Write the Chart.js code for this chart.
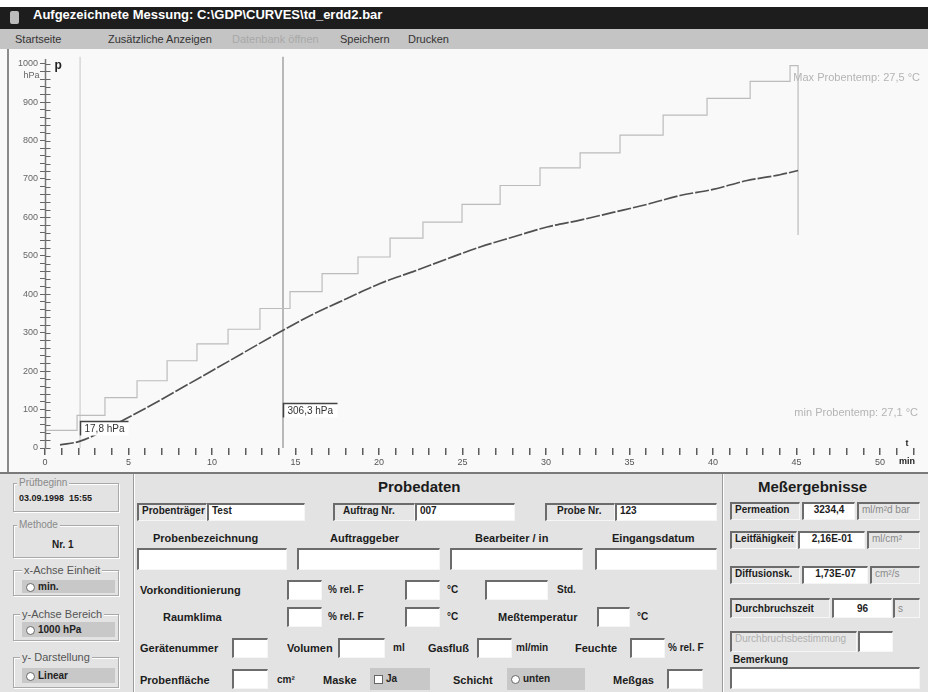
<!DOCTYPE html>
<html>
<head>
<meta charset="utf-8">
<script src="https://cdn.jsdelivr.net/npm/chart.js@4.4.1/dist/chart.umd.min.js"></script>
<style>
body { margin: 0; width: 928px; height: 692px; position: relative; overflow: hidden; background: #fff; font-family: "Liberation Sans", Arial, sans-serif; }
.a { position: absolute; white-space: nowrap; }
#titlebar { left: 0; top: 7px; width: 928px; height: 22px; background: #1d1d1d; }
#titlebar span { position: absolute; left: 33px; top: 0; line-height: 24px; color: #fff; font: bold 13px "Liberation Sans", Arial; }
#icon { left: 10px; top: 11px; width: 9px; height: 13px; background: #bbb; border-radius: 2px; }
#menubar { left: 0; top: 29px; width: 928px; height: 20px; background: #c4c4c4; }
.mi { top: 29px; line-height: 21px; font-size: 11px; color: #333; }
#panel { left: 0; top: 49px; width: 928px; height: 423px; background: #f9f9f9; }
#leftedge { left: 7px; top: 49px; width: 2px; height: 423px; background: #8a8a8a; }
#chartbox { left: 8px; top: 49px; width: 920px; height: 423px; }
#form { left: 0; top: 472px; width: 928px; height: 220px; background: #e3e3e3; border-top: 2px solid #7a7a7a; box-sizing: border-box; }
.vsep { top: 474px; width: 1px; height: 218px; background: #9a9a9a; box-shadow: 1px 0 0 #fff; }
.t { position: absolute; white-space: nowrap; font: bold 11px "Liberation Sans", Arial, sans-serif; color: #1c1c1c; line-height: 14px; }
.n { font-weight: normal; color: #555; }
.h { font-size: 15px; line-height: 18px; }
.in, .cap { position: absolute; box-sizing: border-box; height: 18px; line-height: 15px; border-top: 2px solid #6c6c6c; border-left: 2px solid #6c6c6c; border-right: 1px solid #f6f6f6; border-bottom: 1px solid #f6f6f6; font: bold 10px "Liberation Sans", Arial, sans-serif; color: #1c1c1c; padding-left: 3px; white-space: nowrap; overflow: hidden; }
.in { background: #fff; }
.cap { background: #e6e6e6; }
.c { text-align: center; padding-left: 0; }
.g { color: #8a8a8a; font-weight: normal; }
.grp { position: absolute; box-sizing: border-box; border: 1px solid #a9a9a9; box-shadow: inset 1px 1px 0 #fff, 1px 1px 0 #fff; }
.leg { position: absolute; font-size: 10px; color: #8a8a8a; background: #e3e3e3; padding: 0 2px; line-height: 12px; white-space: nowrap; }
.rad { position: absolute; box-sizing: border-box; background: #c8c8c8; font: bold 10px "Liberation Sans", Arial; color: #222; padding-left: 16px; white-space: nowrap; }
.rad::before { content: ""; position: absolute; left: 4px; top: 50%; margin-top: -4px; width: 7px; height: 7px; border-radius: 50%; background: #fff; border: 1px solid #666; }
.chk::before { border-radius: 0; }
</style>
</head>
<body>

<div class="a" id="titlebar"><span>Aufgezeichnete Messung: C:\GDP\CURVES\td_erdd2.bar</span></div>
<div class="a" id="icon"></div>
<div class="a" id="menubar"></div>
<div class="a mi" style="left:15px">Startseite</div>
<div class="a mi" style="left:108px">Zusätzliche Anzeigen</div>
<div class="a mi" style="left:232px;color:#a8a8a8">Datenbank öffnen</div>
<div class="a mi" style="left:340px">Speichern</div>
<div class="a mi" style="left:408px">Drucken</div>

<div class="a" id="panel"></div>
<div class="a" id="chartbox"><canvas id="chart" width="920" height="423"></canvas></div>
<div class="a" id="leftedge"></div>

<div class="a" id="form"></div>
<div class="a vsep" style="left:133px"></div>
<div class="a vsep" style="left:722px"></div>

<!-- left column -->
<div class="grp" style="left:13px;top:483px;width:106px;height:29px"></div>
<div class="leg" style="left:17px;top:477px">Prüfbeginn</div>
<div class="t" style="left:19px;top:491px;font-size:9px">03.09.1998&nbsp;&nbsp;15:55</div>
<div class="grp" style="left:13px;top:525px;width:106px;height:33px"></div>
<div class="leg" style="left:17px;top:519px">Methode</div>
<div class="t" style="left:52px;top:538px;font-size:10px">Nr. 1</div>
<div class="grp" style="left:13px;top:570px;width:106px;height:26px"></div>
<div class="t n" style="left:22px;top:563px;background:#e3e3e3;padding:0 2px;font-size:11px">x-Achse Einheit</div>
<div class="rad" style="left:22px;top:580px;width:93px;height:13px;line-height:13px">min.</div>
<div class="grp" style="left:13px;top:614px;width:106px;height:27px"></div>
<div class="t n" style="left:20px;top:607px;background:#e3e3e3;padding:0 2px;font-size:11px">y-Achse Bereich</div>
<div class="rad" style="left:22px;top:622px;width:93px;height:15px;line-height:15px">1000 hPa</div>
<div class="grp" style="left:13px;top:657px;width:106px;height:31px"></div>
<div class="t n" style="left:20px;top:650px;background:#e3e3e3;padding:0 2px;font-size:11px">y- Darstellung</div>
<div class="rad" style="left:22px;top:668px;width:93px;height:15px;line-height:15px">Linear</div>

<!-- Probedaten -->
<div class="t h" style="left:378px;top:478px">Probedaten</div>
<div class="cap" style="left:137px;top:503px;width:70px">Probenträger</div>
<div class="in" style="left:207px;top:503px;width:98px">Test</div>
<div class="cap" style="left:333px;top:503px;width:82px;padding-left:8px">Auftrag Nr.</div>
<div class="in" style="left:415px;top:503px;width:100px">007</div>
<div class="cap" style="left:545px;top:503px;width:70px;padding-left:10px">Probe Nr.</div>
<div class="in" style="left:615px;top:503px;width:102px">123</div>

<div class="t" style="left:153px;top:531px">Probenbezeichnung</div>
<div class="t" style="left:330px;top:531px">Auftraggeber</div>
<div class="t" style="left:475px;top:531px">Bearbeiter / in</div>
<div class="t" style="left:612px;top:531px">Eingangsdatum</div>
<div class="in" style="left:137px;top:548px;width:150px;height:22px"></div>
<div class="in" style="left:297px;top:548px;width:143px;height:22px"></div>
<div class="in" style="left:450px;top:548px;width:133px;height:22px"></div>
<div class="in" style="left:595px;top:548px;width:122px;height:22px"></div>

<div class="t" style="left:140px;top:583px">Vorkonditionierung</div>
<div class="in" style="left:287px;top:580px;width:35px;height:20px"></div>
<div class="t" style="left:328px;top:583px;font-size:10px">% rel. F</div>
<div class="in" style="left:405px;top:580px;width:35px;height:20px"></div>
<div class="t" style="left:447px;top:583px;font-size:10px">°C</div>
<div class="in" style="left:485px;top:580px;width:63px;height:20px"></div>
<div class="t" style="left:557px;top:583px;font-size:10px">Std.</div>

<div class="t" style="left:163px;top:610px">Raumklima</div>
<div class="in" style="left:287px;top:607px;width:35px;height:20px"></div>
<div class="t" style="left:328px;top:610px;font-size:10px">% rel. F</div>
<div class="in" style="left:405px;top:607px;width:35px;height:20px"></div>
<div class="t" style="left:447px;top:610px;font-size:10px">°C</div>
<div class="t" style="left:498px;top:610px">Meßtemperatur</div>
<div class="in" style="left:597px;top:607px;width:33px;height:20px"></div>
<div class="t" style="left:637px;top:610px;font-size:10px">°C</div>

<div class="t" style="left:140px;top:641px">Gerätenummer</div>
<div class="in" style="left:232px;top:638px;width:36px;height:20px"></div>
<div class="t" style="left:287px;top:641px">Volumen</div>
<div class="in" style="left:338px;top:638px;width:47px;height:20px"></div>
<div class="t" style="left:393px;top:641px;font-size:10px">ml</div>
<div class="t" style="left:428px;top:641px">Gasfluß</div>
<div class="in" style="left:477px;top:638px;width:35px;height:20px"></div>
<div class="t" style="left:516px;top:641px;font-size:10px">ml/min</div>
<div class="t" style="left:575px;top:641px">Feuchte</div>
<div class="in" style="left:630px;top:638px;width:35px;height:20px"></div>
<div class="t" style="left:668px;top:641px;font-size:10px">% rel. F</div>

<div class="t" style="left:140px;top:673px">Probenfläche</div>
<div class="in" style="left:232px;top:669px;width:36px;height:20px"></div>
<div class="t" style="left:277px;top:673px;font-size:10px">cm²</div>
<div class="t" style="left:323px;top:673px">Maske</div>
<div class="rad chk" style="left:370px;top:668px;width:60px;height:22px;line-height:22px">Ja</div>
<div class="t" style="left:453px;top:673px">Schicht</div>
<div class="rad" style="left:507px;top:668px;width:78px;height:22px;line-height:22px">unten</div>
<div class="t" style="left:613px;top:673px">Meßgas</div>
<div class="in" style="left:667px;top:669px;width:36px;height:20px"></div>

<!-- Meßergebnisse -->
<div class="t h" style="left:758px;top:478px">Meßergebnisse</div>
<div class="cap" style="left:730px;top:502px;width:70px">Permeation</div>
<div class="in c" style="left:802px;top:502px;width:53px">3234,4</div>
<div class="cap g" style="left:857px;top:502px;width:63px">ml/m²d bar</div>
<div class="cap" style="left:730px;top:531px;width:67px">Leitfähigkeit</div>
<div class="in c" style="left:798px;top:531px;width:67px">2,16E-01</div>
<div class="cap g" style="left:867px;top:531px;width:53px">ml/cm²</div>
<div class="cap" style="left:730px;top:566px;width:70px">Diffusionsk.</div>
<div class="in c" style="left:802px;top:566px;width:66px">1,73E-07</div>
<div class="cap g" style="left:870px;top:566px;width:50px">cm²/s</div>
<div class="cap" style="left:730px;top:598px;width:100px;height:20px;line-height:17px">Durchbruchszeit</div>
<div class="in c" style="left:832px;top:598px;width:60px;height:20px;line-height:17px">96</div>
<div class="cap g" style="left:893px;top:598px;width:27px;height:20px;line-height:17px">s</div>
<div class="cap g" style="left:730px;top:631px;width:127px;height:21px;color:#b0b0b0">Durchbruchsbestimmung</div>
<div class="in" style="left:858px;top:631px;width:35px;height:21px"></div>
<div class="t" style="left:733px;top:653px;font-size:10px">Bemerkung</div>
<div class="in" style="left:730px;top:667px;width:190px;height:22px"></div>

<script>
// x axis: minutes, y axis: hPa
const xLabels = ['0', '5', '10', '15', '20', '25', '30', '35', '40', '45', '50'];
const yLabels = ['0', '100', '200', '300', '400', '500', '600', '700', '800', '900', '1000'];

// light staircase (Probentemperatur trace), time of each step and level after it
const stepTime  = [0, 1.92, 3.59, 5.51, 7.31, 9.10, 10.96, 12.87, 14.67, 16.59, 18.74, 20.66,
                   22.63, 24.97, 27.25, 29.64, 32.04, 34.43, 37.01, 39.64, 42.22, 44.61, 45.09];
const stepLevel = [46, 85, 131, 175, 227, 271, 309, 363, 407, 454, 497, 546,
                   588, 634, 683, 729, 768, 814, 866, 910, 954, 995, 554];

// pressure rise curve p (hPa)
const pTime  = [0.9, 2.1, 4.67, 10.0, 14.25, 16.05, 18.08, 20.06, 22.04, 24.07, 26.05,
                28.02, 30.06, 32.04, 34.01, 36.05, 38.02, 40.0, 42.04, 44.01, 45.09];
const pValue = [8, 17.8, 72, 201, 306.3, 348, 389, 428, 459, 492, 523,
                549, 575, 593, 613, 634, 657, 673, 696, 711, 722];

// cursors
const cursorTime  = [2.1, 14.25];
const cursorLabel = ['17,8 hPa', '306,3 hPa'];
const tempMax = 'Max Probentemp: 27,5 °C';
const tempMin = 'min Probentemp: 27,1 °C';

const yTop = 1019;
const toXY = (xs, ys) => xs.map((v, i) => ({ x: v, y: ys[i] }));
const font = '"Liberation Sans", Arial, sans-serif';

const decor = {
    id: 'decor',
    afterDatasetsDraw(chart) {
        const { ctx, scales: { x, y } } = chart;
        ctx.save();

        // y axis line and the inner half of its ticks
        const x0 = Math.round(x.getPixelForValue(0)) + 0.5;
        ctx.strokeStyle = '#777';
        ctx.lineWidth = 1.5;
        ctx.beginPath();
        ctx.moveTo(x0, y.getPixelForValue(0));
        ctx.lineTo(x0, y.getPixelForValue(1012));
        ctx.stroke();
        ctx.strokeStyle = '#666';
        ctx.lineWidth = 1;
        ctx.beginPath();
        y.ticks.forEach(tk => {
            const py = Math.round(y.getPixelForValue(tk.value)) + 0.5;
            ctx.moveTo(x0, py);
            ctx.lineTo(x0 + 5, py);
        });
        ctx.stroke();

        // cursor value boxes
        const boxAt = [70, 116];
        ctx.font = '10px ' + font;
        ctx.textBaseline = 'middle';
        cursorTime.forEach((t, i) => {
            const bx = Math.round(x.getPixelForValue(t)) + 0.5;
            const by = Math.round(y.getPixelForValue(boxAt[i])) + 0.5;
            const w = Math.round(ctx.measureText(cursorLabel[i]).width) + 8;
            ctx.fillStyle = '#fff';
            ctx.fillRect(bx, by, w, 14);
            ctx.strokeStyle = '#444';
            ctx.lineWidth = 1.5;
            ctx.beginPath();
            ctx.moveTo(bx, by + 14);
            ctx.lineTo(bx, by);
            ctx.lineTo(bx + w, by);
            ctx.stroke();
            ctx.fillStyle = '#333';
            ctx.textAlign = 'left';
            ctx.fillText(cursorLabel[i], bx + 4, by + 8);
        });

        // axis names
        ctx.fillStyle = '#222';
        ctx.font = 'bold 12px ' + font;
        ctx.textAlign = 'left';
        ctx.fillText('p', x0 + 9, y.getPixelForValue(1000) + 2);
        ctx.font = '9px ' + font;
        ctx.fillStyle = '#666';
        ctx.textAlign = 'right';
        ctx.fillText('hPa', x0 - 6, y.getPixelForValue(1000) + 12);
        ctx.fillStyle = '#222';
        ctx.font = 'bold 9px ' + font;
        ctx.textAlign = 'center';
        ctx.fillText('t', 899, y.getPixelForValue(0) - 4);
        ctx.fillText('min', 899, y.getPixelForValue(0) + 14);

        // temperature notes
        ctx.font = '11px ' + font;
        ctx.fillStyle = '#b4b4b4';
        ctx.textAlign = 'right';
        ctx.fillText(tempMax, 912, 29);
        ctx.fillText(tempMin, 910, 364);
        ctx.restore();
    }
};

new Chart(document.getElementById('chart'), {
    type: 'line',
    data: {
        datasets: [
            {
                data: toXY(pTime, pValue),
                borderColor: '#505050', borderWidth: 1.7, borderDash: [14, 2],
                cubicInterpolationMode: 'monotone', pointRadius: 0
            },
            {
                data: toXY(stepTime, stepLevel),
                borderColor: '#bcbcbc', borderWidth: 1.2, stepped: 'before', pointRadius: 0
            },
            {
                data: [{ x: cursorTime[1], y: 0 }, { x: cursorTime[1], y: yTop }],
                borderColor: '#8e8e8e', borderWidth: 1.2, pointRadius: 0
            },
            {
                data: [{ x: cursorTime[0], y: 0 }, { x: cursorTime[0], y: yTop }],
                borderColor: '#cfcfcf', borderWidth: 1.2, pointRadius: 0
            }
        ]
    },
    options: {
        responsive: false,
        animation: false,
        layout: { padding: { top: 4, right: 0, left: 0, bottom: 0 } },
        plugins: { legend: { display: false }, tooltip: { enabled: false } },
        scales: {
            x: {
                type: 'linear', min: 0, max: 52.87,
                afterFit: s => { s.height = 24; },
                border: { display: false },
                grid: { drawOnChartArea: false, drawTicks: true, tickLength: 7, color: '#5c5c5c', lineWidth: 1.5 },
                ticks: {
                    stepSize: 1, autoSkip: false, includeBounds: false, maxRotation: 0, padding: 2,
                    color: '#555', font: { size: 9, family: font },
                    callback: v => xLabels.includes(String(v)) ? String(v) : ''
                }
            },
            y: {
                type: 'linear', min: 0, max: yTop,
                afterFit: s => { s.width = 37; },
                border: { display: false },
                grid: { drawOnChartArea: false, drawTicks: true, tickLength: 5, color: '#666', lineWidth: 1 },
                ticks: {
                    stepSize: 20, autoSkip: false, includeBounds: false, padding: 2,
                    color: '#666', font: { size: 9, family: font },
                    callback: v => yLabels.includes(String(v)) ? String(v) : ''
                }
            }
        }
    },
    plugins: [decor]
});
</script>
</body>
</html>
